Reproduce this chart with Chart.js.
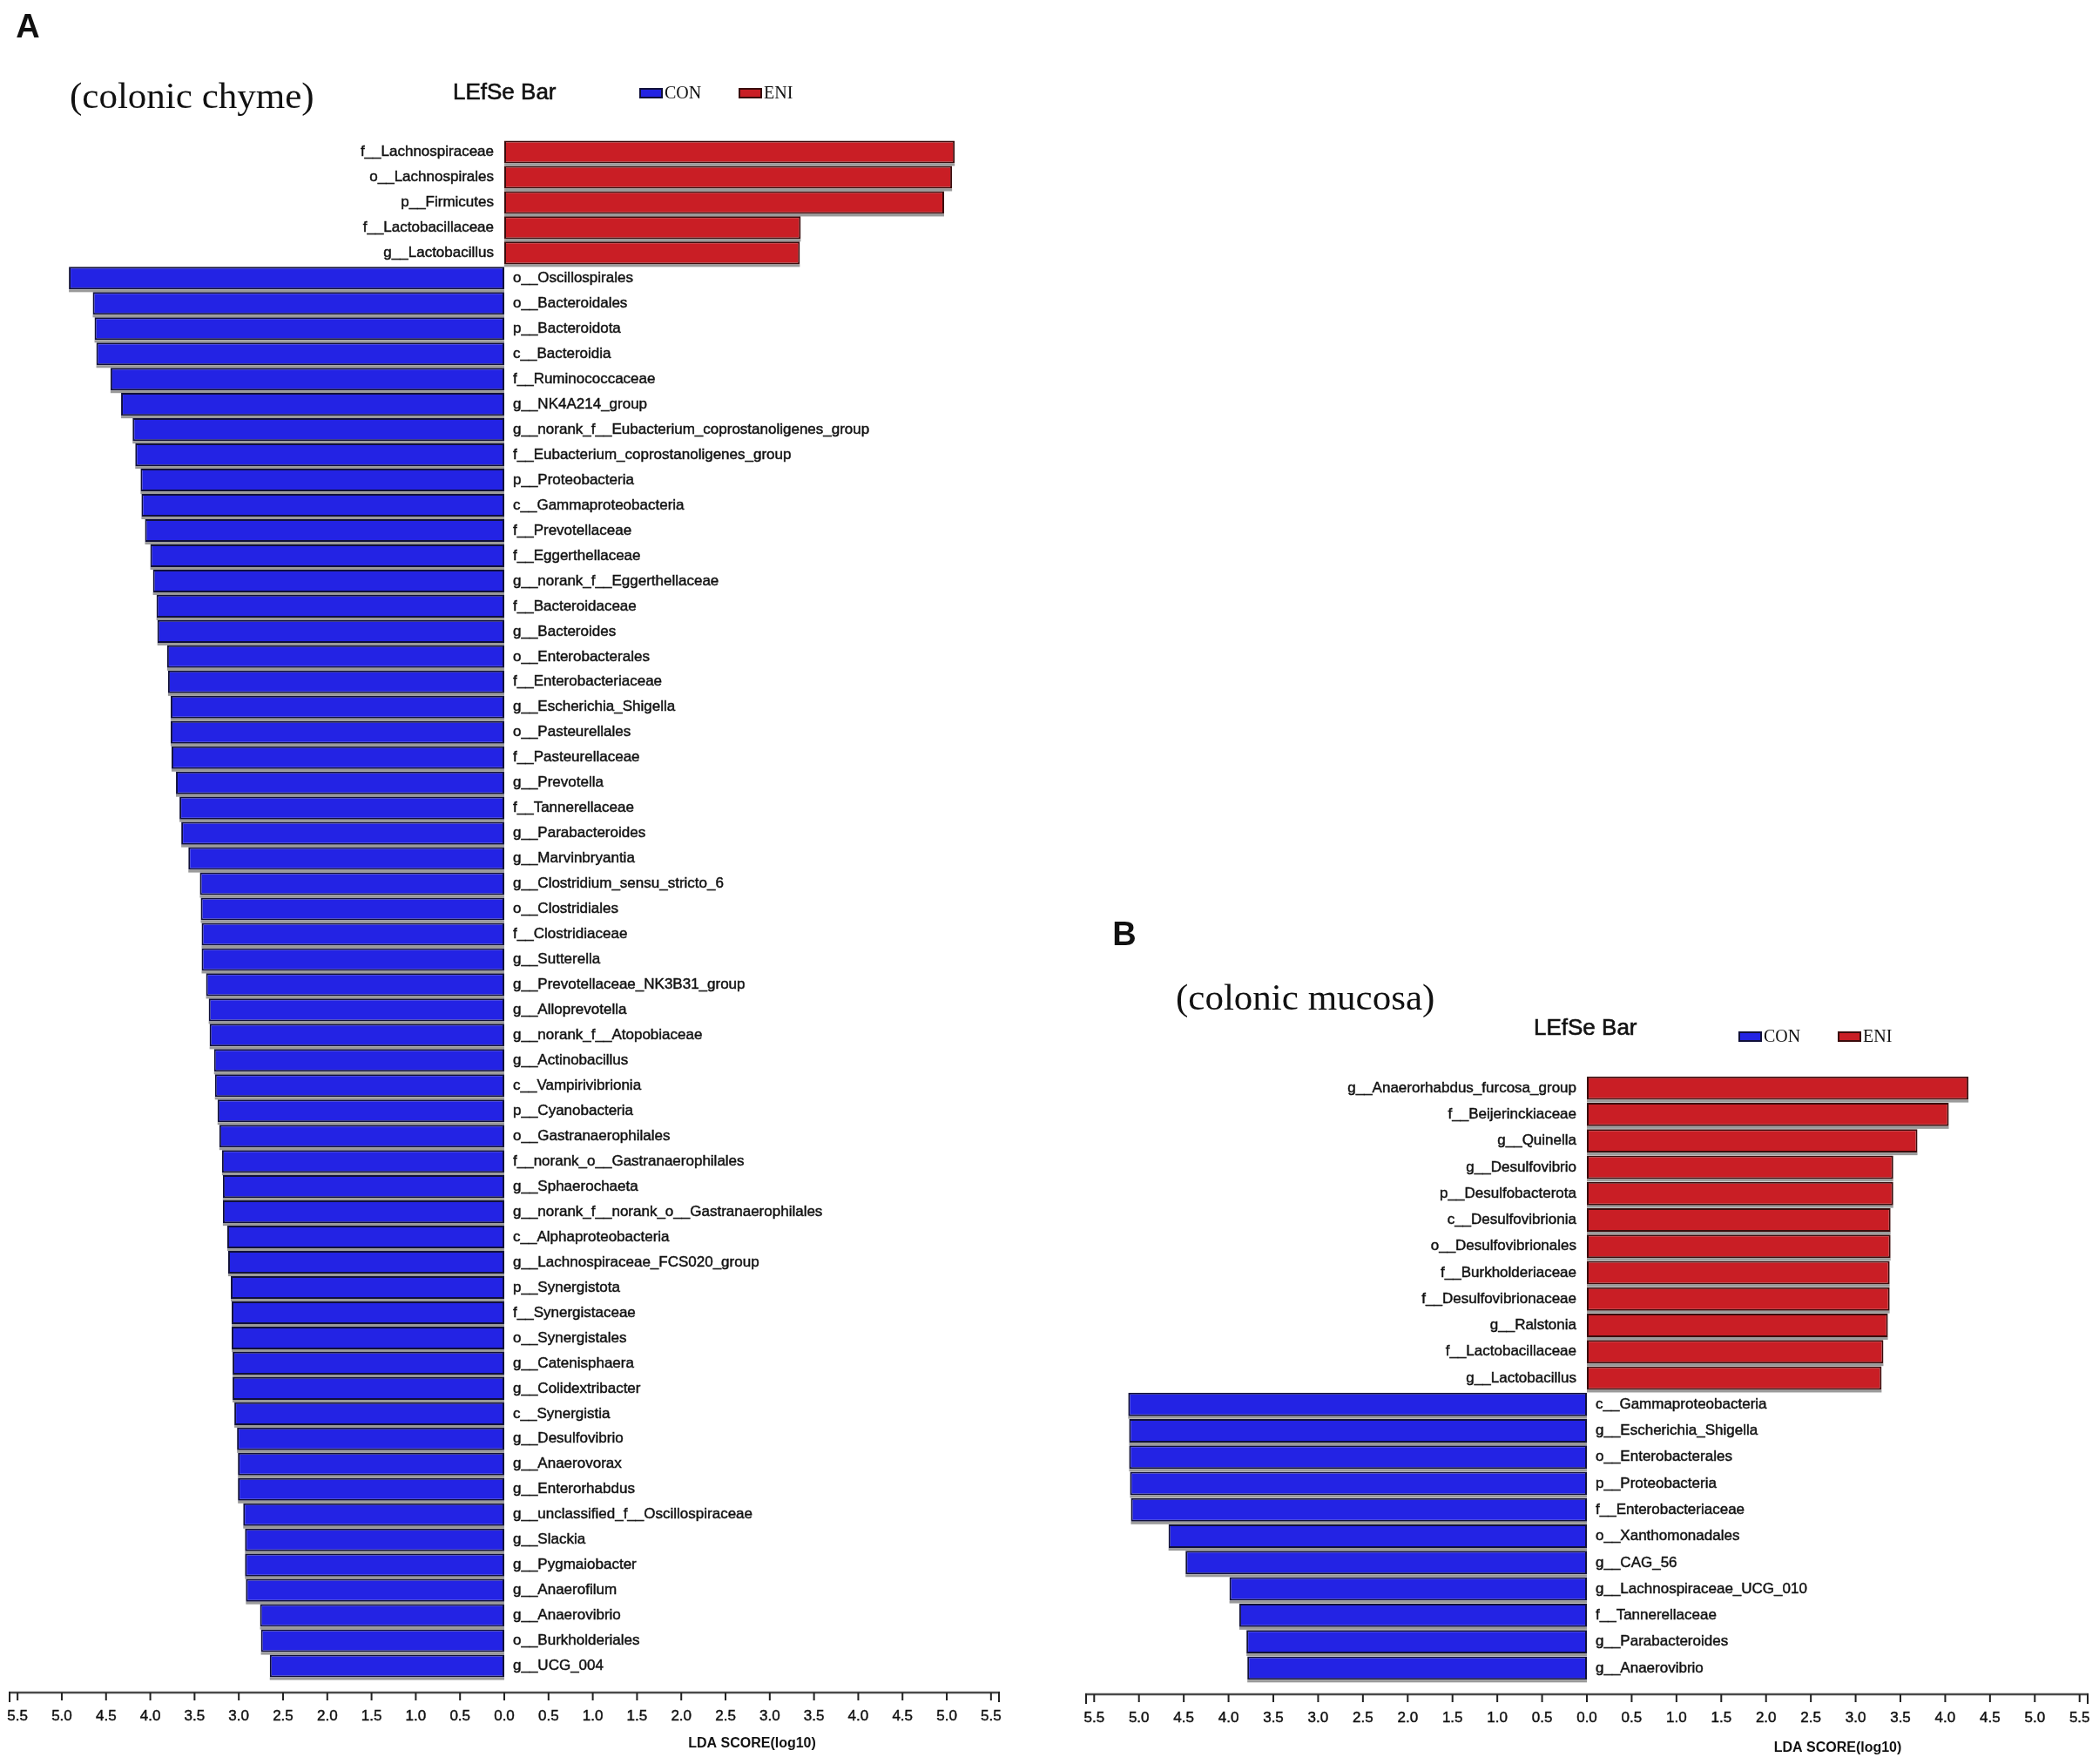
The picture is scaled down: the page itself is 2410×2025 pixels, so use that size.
<!DOCTYPE html>
<html>
<head>
<meta charset="utf-8">
<script src="https://cdn.jsdelivr.net/npm/chart.js@4.4.1/dist/chart.umd.min.js"></script>
<style>
  html, body { margin: 0; padding: 0; background: #ffffff; }
  body { width: 2410px; height: 2025px; position: relative; overflow: hidden; }
  canvas { position: absolute; }
  #chartA { left: 0px; top: 0px; }
  #chartB { left: 1205px; top: 1000px; }
</style>
</head>
<body>
<canvas id="chartA" width="1205" height="2025"></canvas>
<canvas id="chartB" width="1205" height="1025"></canvas>
<script>
// ---------------- DATA ----------------
// Panel A (colonic chyme)
const eniLabelsA = ['f__Lachnospiraceae', 'o__Lachnospirales', 'p__Firmicutes', 'f__Lactobacillaceae', 'g__Lactobacillus'];
const eniScoresA = [5.09, 5.06, 4.97, 3.35, 3.34];
const conLabelsA = [
  'o__Oscillospirales', 'o__Bacteroidales', 'p__Bacteroidota', 'c__Bacteroidia', 'f__Ruminococcaceae',
  'g__NK4A214_group', 'g__norank_f__Eubacterium_coprostanoligenes_group', 'f__Eubacterium_coprostanoligenes_group',
  'p__Proteobacteria', 'c__Gammaproteobacteria', 'f__Prevotellaceae', 'f__Eggerthellaceae', 'g__norank_f__Eggerthellaceae',
  'f__Bacteroidaceae', 'g__Bacteroides', 'o__Enterobacterales', 'f__Enterobacteriaceae', 'g__Escherichia_Shigella',
  'o__Pasteurellales', 'f__Pasteurellaceae', 'g__Prevotella', 'f__Tannerellaceae', 'g__Parabacteroides',
  'g__Marvinbryantia', 'g__Clostridium_sensu_stricto_6', 'o__Clostridiales', 'f__Clostridiaceae', 'g__Sutterella',
  'g__Prevotellaceae_NK3B31_group', 'g__Alloprevotella', 'g__norank_f__Atopobiaceae', 'g__Actinobacillus',
  'c__Vampirivibrionia', 'p__Cyanobacteria', 'o__Gastranaerophilales', 'f__norank_o__Gastranaerophilales',
  'g__Sphaerochaeta', 'g__norank_f__norank_o__Gastranaerophilales', 'c__Alphaproteobacteria',
  'g__Lachnospiraceae_FCS020_group', 'p__Synergistota', 'f__Synergistaceae', 'o__Synergistales', 'g__Catenisphaera',
  'g__Colidextribacter', 'c__Synergistia', 'g__Desulfovibrio', 'g__Anaerovorax', 'g__Enterorhabdus',
  'g__unclassified_f__Oscillospiraceae', 'g__Slackia', 'g__Pygmaiobacter', 'g__Anaerofilum', 'g__Anaerovibrio',
  'o__Burkholderiales', 'g__UCG_004'
];
const conScoresA = [
  4.92, 4.65, 4.63, 4.61, 4.45,
  4.33, 4.20, 4.17,
  4.11, 4.10, 4.06, 4.00, 3.97,
  3.93, 3.92, 3.81, 3.80, 3.77,
  3.77, 3.76, 3.71, 3.67, 3.65,
  3.57, 3.44, 3.43, 3.42, 3.42,
  3.37, 3.34, 3.33, 3.28,
  3.27, 3.24, 3.22, 3.19,
  3.18, 3.18, 3.13,
  3.12, 3.09, 3.08, 3.08, 3.07,
  3.07, 3.05, 3.02, 3.01, 3.01,
  2.95, 2.93, 2.93, 2.92, 2.76,
  2.75, 2.65
];

// Panel B (colonic mucosa)
const eniLabelsB = [
  'g__Anaerorhabdus_furcosa_group', 'f__Beijerinckiaceae', 'g__Quinella', 'g__Desulfovibrio', 'p__Desulfobacterota',
  'c__Desulfovibrionia', 'o__Desulfovibrionales', 'f__Burkholderiaceae', 'f__Desulfovibrionaceae', 'g__Ralstonia',
  'f__Lactobacillaceae', 'g__Lactobacillus'
];
const eniScoresB = [4.26, 4.04, 3.69, 3.42, 3.42, 3.39, 3.39, 3.38, 3.38, 3.36, 3.31, 3.29];
const conLabelsB = [
  'c__Gammaproteobacteria', 'g__Escherichia_Shigella', 'o__Enterobacterales', 'p__Proteobacteria',
  'f__Enterobacteriaceae', 'o__Xanthomonadales', 'g__CAG_56', 'g__Lachnospiraceae_UCG_010',
  'f__Tannerellaceae', 'g__Parabacteroides', 'g__Anaerovibrio'
];
const conScoresB = [5.12, 5.11, 5.11, 5.10, 5.09, 4.67, 4.48, 3.99, 3.88, 3.80, 3.79];

// Axis ticks (LDA score)
const tickValues = [-5.5, -5.0, -4.5, -4.0, -3.5, -3.0, -2.5, -2.0, -1.5, -1.0, -0.5, 0.0,
                    0.5, 1.0, 1.5, 2.0, 2.5, 3.0, 3.5, 4.0, 4.5, 5.0, 5.5];
const tickLabels = ['5.5', '5.0', '4.5', '4.0', '3.5', '3.0', '2.5', '2.0', '1.5', '1.0', '0.5', '0.0',
                    '0.5', '1.0', '1.5', '2.0', '2.5', '3.0', '3.5', '4.0', '4.5', '5.0', '5.5'];
const groupNames = ['CON', 'ENI'];
const axisTitle = 'LDA SCORE(log10)';
const chartTitle = 'LEfSe Bar';

// ---------------- STYLE ----------------
const BLUE = '#2323e4';
const BLUE_BORDER = '#10103a';
const RED = '#c91e25';
const RED_BORDER = '#3a0c0c';
const SANS = '"Liberation Sans", Arial, sans-serif';
const SERIF = '"Liberation Serif", "Times New Roman", serif';

function heavyText(ctx, text, x, y) {
  ctx.fillText(text, x, y);
  ctx.strokeText(text, x, y);
}

function makePlugin(deco) {
  return {
    id: 'lefseDeco',
    beforeDatasetsDraw(chart) {
      const ctx = chart.ctx;
      ctx.save();
      ctx.fillStyle = '#9a9a9a';
      chart.data.datasets.forEach((ds, di) => {
        const meta = chart.getDatasetMeta(di);
        meta.data.forEach((el, i) => {
          if (ds.data[i] === null || ds.data[i] === undefined) return;
          const p = el.getProps(['x', 'y', 'base', 'height'], true);
          const l = Math.min(p.x, p.base), w = Math.abs(p.x - p.base);
          ctx.fillRect(l, p.y + p.height / 2, w, 3);
        });
      });
      ctx.restore();
    },
    afterDatasetsDraw(chart) {
      const ctx = chart.ctx;
      const xs = chart.scales.x, ys = chart.scales.y;
      const zero = xs.getPixelForValue(0);
      ctx.save();
      // category labels
      ctx.font = '17px ' + SANS;
      ctx.fillStyle = '#111';
      ctx.strokeStyle = '#111';
      ctx.lineWidth = 0.45;
      ctx.textBaseline = 'middle';
      chart.data.labels.forEach((lab, i) => {
        const y = ys.getPixelForValue(i);
        const eni = chart.data.datasets[1].data[i];
        if (eni !== null && eni !== undefined) {
          ctx.textAlign = 'right';
          heavyText(ctx, lab, zero - 12, y);
        } else {
          ctx.textAlign = 'left';
          heavyText(ctx, lab, zero + 10, y);
        }
      });
      // x axis
      const axisY = chart.chartArea.bottom + deco.axisGap;
      ctx.strokeStyle = '#4a4a4a';
      ctx.lineWidth = 2.5;
      ctx.beginPath();
      ctx.moveTo(xs.left, axisY);
      ctx.lineTo(xs.right, axisY);
      ctx.stroke();
      ctx.lineWidth = 2;
      ctx.strokeStyle = '#222';
      ctx.beginPath();
      ctx.moveTo(xs.left + 1, axisY - 1); ctx.lineTo(xs.left + 1, axisY + 11);
      ctx.moveTo(xs.right - 1, axisY - 1); ctx.lineTo(xs.right - 1, axisY + 11);
      tickValues.forEach(v => {
        const x = xs.getPixelForValue(v);
        ctx.moveTo(x, axisY); ctx.lineTo(x, axisY + 9);
      });
      ctx.stroke();
      ctx.fillStyle = '#111';
      ctx.strokeStyle = '#111';
      ctx.lineWidth = 0.45;
      ctx.font = '17px ' + SANS;
      ctx.textAlign = 'center';
      ctx.textBaseline = 'middle';
      tickValues.forEach((v, i) => {
        heavyText(ctx, tickLabels[i], xs.getPixelForValue(v), axisY + 27);
      });
      ctx.font = 'bold 16px ' + SANS;
      ctx.fillText(axisTitle, xs.getPixelForValue(2.8), axisY + deco.titleGap);

      // panel letter
      ctx.font = 'bold 38px ' + SANS;
      ctx.fillText(deco.letter, deco.letterX, deco.letterY);
      // subtitle
      ctx.textAlign = 'left';
      ctx.font = '43px ' + SERIF;
      ctx.fillText(deco.subtitle, deco.subX, deco.subY);
      // LEfSe Bar
      ctx.font = '26px ' + SANS;
      ctx.lineWidth = 0.6;
      heavyText(ctx, chartTitle, deco.titleX, deco.titleY);
      // legend
      ctx.font = '20px ' + SERIF;
      chart.data.datasets.forEach((ds, di) => {
        const bx = deco.legendX[di];
        ctx.fillStyle = ds.borderColor;
        ctx.fillRect(bx, deco.legendY - 6, 27, 12);
        ctx.fillStyle = ds.backgroundColor;
        ctx.fillRect(bx + 2, deco.legendY - 4, 23, 8);
        ctx.fillStyle = '#111';
        ctx.fillText(ds.label, bx + 29, deco.legendY + 1);
      });
      ctx.restore();
    }
  };
}

function buildChart(canvasId, eniLabels, eniScores, conLabels, conScores, padding, barPct, deco) {
  const labels = eniLabels.concat(conLabels);
  const eniData = eniScores.concat(conLabels.map(() => null));
  const conData = eniLabels.map(() => null).concat(conScores.map(v => -v));
  return new Chart(document.getElementById(canvasId), {
    type: 'bar',
    data: {
      labels: labels,
      datasets: [
        { label: groupNames[0], data: conData, backgroundColor: BLUE, borderColor: BLUE_BORDER,
          borderWidth: 2, borderSkipped: false, grouped: false, barPercentage: barPct, categoryPercentage: 1 },
        { label: groupNames[1], data: eniData, backgroundColor: RED, borderColor: RED_BORDER,
          borderWidth: 2, borderSkipped: false, grouped: false, barPercentage: barPct, categoryPercentage: 1 }
      ]
    },
    options: {
      indexAxis: 'y',
      responsive: false,
      animation: false,
      devicePixelRatio: 1,
      layout: { padding: padding },
      scales: {
        x: { type: 'linear', min: -5.6, max: 5.6, display: false },
        y: { type: 'category', display: false, offset: true }
      },
      plugins: { legend: { display: false }, tooltip: { enabled: false }, title: { display: false } }
    },
    plugins: [makePlugin(deco)]
  });
}

buildChart('chartA', eniLabelsA, eniScoresA, conLabelsA, conScoresA,
  { left: 10, right: 57, top: 160, bottom: 98 }, 0.9,
  { axisGap: 16, titleGap: 59, letter: 'A', letterX: 32, letterY: 33,
    subtitle: '(colonic chyme)', subX: 80, subY: 113,
    titleX: 520, titleY: 107, legendX: [734, 848], legendY: 107 });

buildChart('chartB', eniLabelsB, eniScoresB, conLabelsB, conScoresB,
  { left: 41, right: 12, top: 234, bottom: 95 }, 0.89,
  { axisGap: 15, titleGap: 62, letter: 'B', letterX: 86, letterY: 75,
    subtitle: '(colonic mucosa)', subX: 145, subY: 148,
    titleX: 556, titleY: 181, legendX: [791, 905], legendY: 190 });
</script>
</body>
</html>
